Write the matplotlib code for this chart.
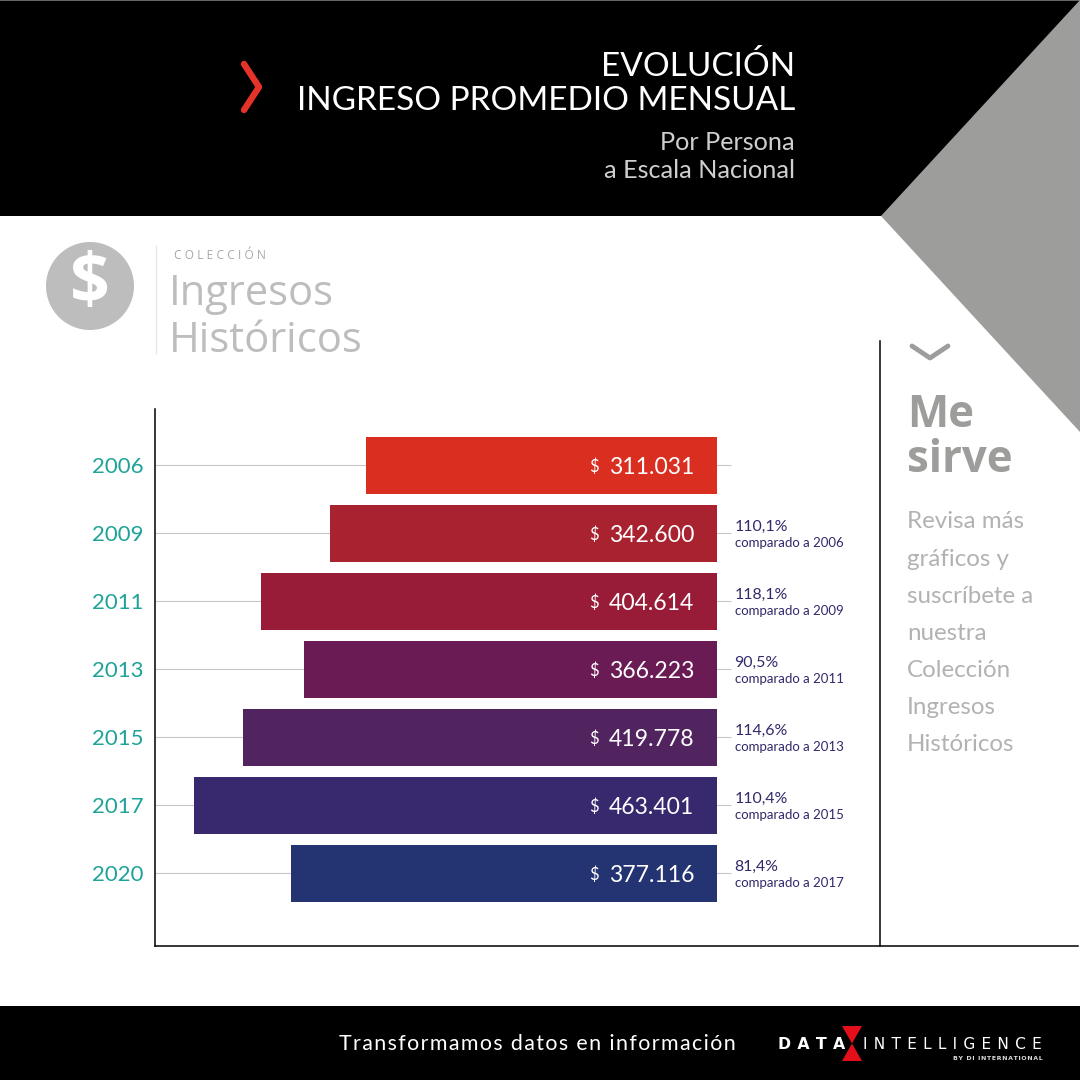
import matplotlib
matplotlib.use('Agg')
import matplotlib.pyplot as plt
from matplotlib.patches import Polygon, Circle, Rectangle

years = ['2006', '2009', '2011', '2013', '2015', '2017', '2020']
ingresos = [311031, 342600, 404614, 366223, 419778, 463401, 377116]
pct = [None, '110,1%', '118,1%', '90,5%', '114,6%', '110,4%', '81,4%']
comparado = [None, '2006', '2009', '2011', '2013', '2015', '2017']
bar_colors = ['#d92e20', '#a92230', '#981b38', '#6b1b54', '#51245f', '#38286e', '#243372']

side_lines = ['Revisa más', 'gráficos y', 'suscríbete a', 'nuestra', 'Colección', 'Ingresos', 'Históricos']

plt.rcParams['font.family'] = ['Lato', 'DejaVu Sans']
OPEN = ['Open Sans', 'DejaVu Sans']


def track(s, sp='\u200a'):
    # letter spacing, matplotlib has no option for it
    return sp.join(s)


fig = plt.figure(figsize=(10.8, 10.8), dpi=100, facecolor='white')

# decoration layer in pixels, y going down
bg = fig.add_axes([0, 0, 1, 1])
bg.set_xlim(0, 1080)
bg.set_ylim(1080, 0)
bg.axis('off')

bg.add_patch(Rectangle((0, 0), 1080, 216, color='black', lw=0))
bg.add_patch(Rectangle((0, 0), 1080, 1, color='#666666', lw=0))
bg.add_patch(Polygon([(1080, 0), (881, 216), (1080, 432)], color='#9d9d9c', lw=0))
bg.add_patch(Rectangle((0, 1006), 1080, 74, color='black', lw=0))
bg.plot([244, 259, 244], [64, 87, 110], color='#e5332a', lw=4.6, solid_capstyle='round', solid_joinstyle='round')

bg.text(795, 76, 'EVOLUCIÓN', color='white', fontsize=24, ha='right', va='baseline')
bg.text(795, 110, 'INGRESO PROMEDIO MENSUAL', color='white', fontsize=24, ha='right', va='baseline')
bg.text(795, 150, 'Por Persona', color='#cfcfcf', fontsize=18.2, ha='right', va='baseline')
bg.text(795, 178, 'a Escala Nacional', color='#cfcfcf', fontsize=18.2, ha='right', va='baseline')

# coleccion block
bg.add_patch(Circle((90, 286), 44, color='#bdbdbd', lw=0))
bg.text(90, 285, '$', color='white', fontsize=50, ha='center', va='center', fontweight='bold', family=OPEN)
bg.plot([156, 156], [246, 353], color='#e6e6e6', lw=1)
bg.text(174, 259, track('COLECCIÓN', '\u2009\u200a'), color='#a8a8a8', fontsize=8.6, ha='left', va='baseline',
        family=OPEN)
bg.text(169, 305, 'Ingresos', color='#bdbdbd', fontsize=30, ha='left', va='baseline', family=OPEN)
bg.text(169, 352, 'Históricos', color='#bdbdbd', fontsize=30, ha='left', va='baseline', family=OPEN)

# side panel
bg.plot([880, 880], [341, 946], color='black', lw=1.1)
bg.plot([912, 930, 948], [346, 358, 346], color='#9d9d9c', lw=3.5, solid_capstyle='round', solid_joinstyle='round')
bg.text(907, 427, 'Me', color='#9d9d9c', fontsize=31.5, fontweight='bold', ha='left', va='baseline', family=OPEN)
bg.text(907, 472, 'sirve', color='#9d9d9c', fontsize=31.5, fontweight='bold', ha='left', va='baseline', family=OPEN)
for i, line in enumerate(side_lines):
    bg.text(907, 528.5 + i * 37.1, line, color='#b2b2b2', fontsize=17.4, ha='left', va='baseline')

# footer
bg.text(339, 1050, track('Transformamos datos en información'), color='white', fontsize=15.4, ha='left', va='baseline')
bg.add_patch(Polygon([(842, 1026), (862, 1026), (852, 1043.5)], color='#e30f1b', lw=0))
bg.add_patch(Polygon([(852, 1043.5), (842, 1061), (862, 1061)], color='#e30f1b', lw=0))
bg.text(778, 1049, track('DATA', '\u2009\u2009'), color='white', fontsize=11.3, fontweight='bold', ha='left',
        va='baseline', family=['DejaVu Sans'])
bg.text(863, 1049, track('INTELLIGENCE', '\u2009\u2009'), color='white', fontsize=11.1, ha='left', va='baseline',
        family=['DejaVu Sans'])
bg.text(1043, 1060, track('BY DI INTERNATIONAL', '\u200a'), color='#dddddd', fontsize=4.5, fontweight='bold',
        ha='right', va='baseline', family=['DejaVu Sans'])

# chart axes, x runs to the left from the bars' right edge at px 716.5
px_per_unit = 0.001127
ax = fig.add_axes([155 / 1080, (1080 - 946) / 1080, (1078 - 155) / 1080, (946 - 409) / 1080])
ax.patch.set_alpha(0)
ax.set_xlim((716.5 - 155) / px_per_unit, (716.5 - 1078) / px_per_unit)
ax.set_ylim((946 - 465.2) / 68, (409 - 465.2) / 68)

pos = list(range(len(years)))
ax.hlines(pos, (716.5 - 155) / px_per_unit, -14 / px_per_unit, color='#c8c8c8', lw=0.8, zorder=1)
ax.barh(pos, ingresos, height=0.84, color=bar_colors, zorder=2)

for i, v in enumerate(ingresos):
    ax.annotate(f'{v:,}'.replace(',', '.'), (0, i), xytext=(-22, -2), textcoords='offset pixels',
                color='white', fontsize=16.6, ha='right', va='center', zorder=3)
    ax.annotate('$', (0, i), xytext=(-118, -1.5), textcoords='offset pixels',
                color='white', fontsize=12, ha='right', va='center', zorder=3)
    if pct[i] is not None:
        ax.annotate(pct[i], (0, i), xytext=(18, 2), textcoords='offset pixels',
                    color='#312a6b', fontsize=11.4, ha='left', va='baseline')
        ax.annotate('comparado a ' + comparado[i], (0, i), xytext=(18.4, -14), textcoords='offset pixels',
                    color='#312a6b', fontsize=9.5, ha='left', va='baseline')

ax.set_yticks(pos, years)
ax.set_xticks([])
ax.tick_params(axis='y', length=0, pad=8, labelsize=16, labelcolor='#1fa398')
ax.spines['top'].set_visible(False)
ax.spines['right'].set_visible(False)
ax.spines['left'].set_linewidth(1.1)
ax.spines['bottom'].set_linewidth(1.1)

fig.savefig('out.png', dpi=100)
